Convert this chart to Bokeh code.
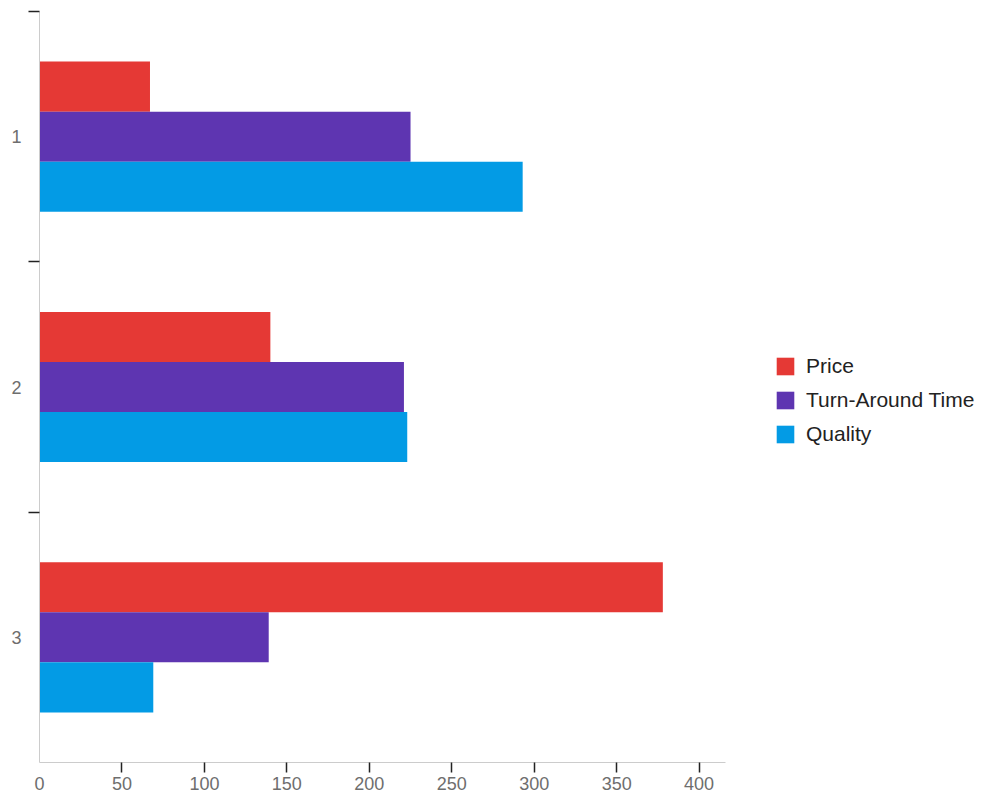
from bokeh.plotting import figure
from bokeh.models import Range1d, FixedTicker, Legend, LegendItem, ColumnDataSource
from bokeh.transform import dodge
from bokeh.embed import file_html
from bokeh.resources import INLINE

categories = [1, 2, 3]
price = [67, 140, 378]
turnaround = [225, 221, 139]
quality = [293, 223, 69]
series_names = ["Price", "Turn-Around Time", "Quality"]
colors = ["#E53935", "#5E35B1", "#039BE5"]
x_ticks = [0, 50, 100, 150, 200, 250, 300, 350, 400]

src = ColumnDataSource(dict(y=categories, price=price, turnaround=turnaround, quality=quality))

p = figure(frame_width=686, frame_height=751, output_backend="svg", toolbar_location=None,
           x_range=Range1d(0, 416), y_range=Range1d(3.5, 0.5),
           min_border_left=39, min_border_top=11, min_border_right=247, min_border_bottom=20)
p.outline_line_color = None
p.xgrid.grid_line_color = None
p.ygrid.grid_line_color = None

r1 = p.hbar(y=dodge("y", -0.2, range=p.y_range), right="price", left=0, height=0.2,
            source=src, fill_color=colors[0], line_color=None)
r2 = p.hbar(y=dodge("y", 0.0, range=p.y_range), right="turnaround", left=0, height=0.2,
            source=src, fill_color=colors[1], line_color=None)
r3 = p.hbar(y=dodge("y", 0.2, range=p.y_range), right="quality", left=0, height=0.2,
            source=src, fill_color=colors[2], line_color=None)

font = "Liberation Sans"

xa = p.xaxis[0]
xa.ticker = FixedTicker(ticks=x_ticks, minor_ticks=x_ticks[1:])
xa.axis_line_color = "#cccccc"
xa.major_tick_line_color = None
xa.major_tick_out = 10
xa.major_tick_in = 0
xa.minor_tick_line_color = "#222222"
xa.minor_tick_line_width = 1.5
xa.minor_tick_out = 10
xa.minor_tick_in = 0
xa.major_label_text_font = font
xa.major_label_text_font_size = "18px"
xa.major_label_text_color = "#6e6e6e"
xa.major_label_standoff = 4

ya = p.yaxis[0]
ya.ticker = FixedTicker(ticks=categories, minor_ticks=[0.5, 1.5, 2.5])
ya.axis_line_color = "#cccccc"
ya.major_tick_line_color = None
ya.major_tick_out = 10
ya.major_tick_in = 0
ya.minor_tick_line_color = "#222222"
ya.minor_tick_line_width = 1.5
ya.minor_tick_out = 11
ya.minor_tick_in = 0
ya.major_label_text_font = font
ya.major_label_text_font_size = "18px"
ya.major_label_text_color = "#6e6e6e"
ya.major_label_standoff = 7

legend = Legend(items=[LegendItem(label=series_names[0], renderers=[r1]),
                       LegendItem(label=series_names[1], renderers=[r2]),
                       LegendItem(label=series_names[2], renderers=[r3])],
                location=(49, 316), margin=0, padding=0, border_line_color=None,
                background_fill_alpha=0, glyph_width=22, glyph_height=22,
                label_standoff=10, spacing=10, label_text_font=font,
                label_text_font_size="21px", label_text_color="#222222")
p.add_layout(legend, "right")

open("out.html", "w").write(file_html(p, INLINE))
